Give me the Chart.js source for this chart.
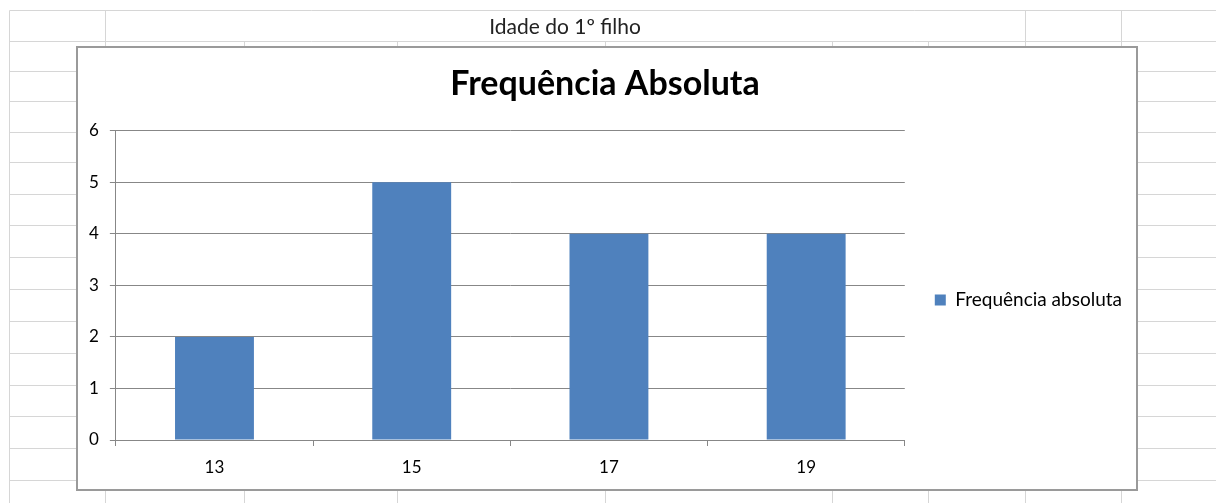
<!DOCTYPE html>
<html lang="pt">
<head>
<meta charset="utf-8">
<title>Idade do 1º filho</title>
<script src="https://cdn.jsdelivr.net/npm/chart.js@4.4.1/dist/chart.umd.min.js"></script>
<style>
  html, body { margin: 0; padding: 0; background: #fff; }
  #page { position: relative; width: 1216px; height: 503px; overflow: hidden; }
  #sheet { position: absolute; left: 0; top: 0; }
  #header {
    position: absolute; left: 105px; top: 11px; width: 920px; height: 30px;
    line-height: 30px; text-align: center;
    font-family: Lato, "Open Sans", sans-serif; font-size: 21px; color: #222;
  }
  #chartBox {
    position: absolute; left: 76px; top: 46px; width: 1062px; height: 445px;
    box-sizing: border-box; border: 2px solid #9a9a9a; background: #fff;
  }
  #chartBox canvas { display: block; }
</style>
</head>
<body>
<div id="page">
  <canvas id="sheet" width="1216" height="503"></canvas>
  <div id="header">Idade do 1º filho</div>
  <div id="chartBox"><canvas id="chart"></canvas></div>
</div>
<script>
// Idade do primeiro filho e número de ocorrências
const idades = ['13', '15', '17', '19'];
const frequencias = [2, 5, 4, 4];
const serieNome = 'Frequência absoluta';
const tituloGrafico = 'Frequência Absoluta';
const escalaY = { min: 0, max: 6, passo: 1 };

// Worksheet cell grid behind the chart
(function drawSheet() {
  const c = document.getElementById('sheet');
  const ctx = c.getContext('2d');
  ctx.strokeStyle = '#d6d6d6';
  ctx.lineWidth = 1;
  const line = (x1, y1, x2, y2) => {
    ctx.beginPath();
    ctx.moveTo(x1 + 0.5, y1 + 0.5);
    ctx.lineTo(x2 + 0.5, y2 + 0.5);
    ctx.stroke();
  };
  const rows = [10, 41, 71, 101, 132, 162, 194, 225, 257, 289, 321, 353, 385, 416, 448, 480];
  rows.forEach(y => line(9, y, 1216, y));
  // columns running through the header row
  [9, 105, 1025, 1121].forEach(x => line(x, 10, x, 503));
  // columns that start below the merged header cell
  [244, 397, 605, 832, 928].forEach(x => line(x, 41, x, 503));
})();

const gridColor = '#878787';
const tickFont = { family: 'Lato', size: 17 };

new Chart(document.getElementById('chart'), {
  type: 'bar',
  data: {
    labels: idades,
    datasets: [{
      label: serieNome,
      data: frequencias,
      backgroundColor: '#4f81bd',
      borderWidth: 0,
      categoryPercentage: 1.0,
      barPercentage: 0.4
    }]
  },
  options: {
    responsive: true,
    maintainAspectRatio: false,
    animation: false,
    font: { family: 'Lato' },
    color: '#000',
    layout: { padding: { left: 0, right: 4, top: 0, bottom: 0 } },
    plugins: {
      title: {
        display: true,
        text: tituloGrafico,
        color: '#000',
        font: { family: 'Lato', size: 34, weight: 'bold' },
        padding: { top: 16, bottom: 26 }
      },
      legend: {
        display: true,
        position: 'right',
        align: 'center',
        // empty title block nudges the single entry down
        title: { display: true, text: '', font: { size: 10 }, padding: { top: 51, bottom: 0 } },
        labels: {
          color: '#000',
          font: { family: 'Lato', size: 19 },
          boxWidth: 11,
          boxHeight: 11,
          padding: 30
        }
      },
      tooltip: { enabled: false }
    },
    scales: {
      x: {
        offset: true,
        grid: {
          display: true,
          offset: true,
          drawOnChartArea: false,
          drawTicks: true,
          tickLength: 6,
          color: gridColor
        },
        border: { display: true, color: gridColor },
        ticks: { color: '#000', font: { family: 'Lato', size: 17, lineHeight: 1.0 }, padding: 13 }
      },
      y: {
        min: escalaY.min,
        max: escalaY.max,
        grid: { color: gridColor, tickLength: 6, drawTicks: true },
        border: { display: true, color: gridColor },
        ticks: {
          stepSize: escalaY.passo,
          color: '#000',
          font: tickFont,
          padding: 11
        }
      }
    }
  }
});
</script>
</body>
</html>
